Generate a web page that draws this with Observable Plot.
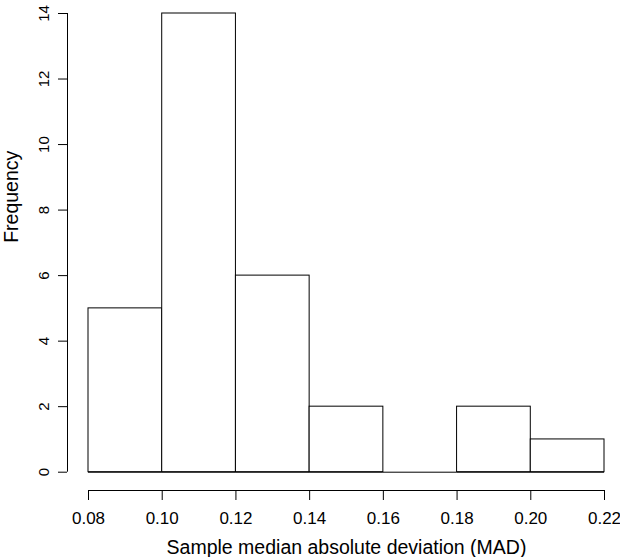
<!DOCTYPE html>
<html><head><meta charset="utf-8">
<script src="https://cdn.jsdelivr.net/npm/d3@7"></script>
<script src="https://cdn.jsdelivr.net/npm/@observablehq/plot@0.6"></script>
<style>body{margin:0;background:#fff;}</style>
</head><body><div id="chart"></div>
<script>
const binStarts = [0.08, 0.10, 0.12, 0.14, 0.16, 0.18, 0.20];
const binEnds   = [0.10, 0.12, 0.14, 0.16, 0.18, 0.20, 0.22];
const counts    = [5, 14, 6, 2, 0, 2, 1];
const xTicks = [0.08, 0.10, 0.12, 0.14, 0.16, 0.18, 0.20, 0.22];
const yTicks = [0, 2, 4, 6, 8, 10, 12, 14];
const xLabel = "Sample median absolute deviation (MAD)";
const yLabel = "Frequency";

const bins = counts.map((c, i) => ({x1: binStarts[i], x2: binEnds[i], count: c}));
const xMin = xTicks[0], xMax = xTicks[xTicks.length - 1];
const yMin = yTicks[0], yMax = yTicks[yTicks.length - 1];

const chart = Plot.plot({
  width: 620,
  height: 557,
  marginLeft: 67,
  insetLeft: 21,
  marginRight: 16,
  insetRight: 0,
  marginTop: 13,
  insetTop: 0,
  marginBottom: 67,
  insetBottom: 18.3,
  style: {fontFamily: "'Liberation Sans', Arial, sans-serif", color: "#000", background: "#fff"},
  x: {domain: [xMin, xMax], axis: null},
  y: {domain: [yMin, yMax], axis: null},
  marks: [
    Plot.rectY(bins, {x1: "x1", x2: "x2", y: "count", fill: "#fff", stroke: "#000", strokeWidth: 1}),
    Plot.ruleY(bins, {x1: "x1", x2: "x2", y: () => 0, stroke: "#000", strokeWidth: 1}),
    // x axis
    Plot.ruleY([yMin], {x1: xMin, x2: xMax, dy: 18.3, stroke: "#000"}),
    Plot.axisX(xTicks, {anchor: "bottom", tickSize: 10, tickPadding: 11, tickFormat: d3.format(".2f"), fontSize: 17, label: null, stroke: "#000"}),
    // y axis
    Plot.ruleX([xMin], {y1: yMin, y2: yMax, dx: -21, stroke: "#000"}),
    Plot.axisY(yTicks, {anchor: "left", tickSize: 9, tickPadding: 10, tickRotate: -90, tickFormat: d3.format("d"), fontSize: 15, label: null, stroke: "#000"}),
    // titles
    Plot.text([xLabel], {x: () => (xMin + xMax) / 2, frameAnchor: "bottom", dy: 63, lineAnchor: "bottom", fontSize: 19.5, fill: "#000"}),
    Plot.text([yLabel], {y: () => (yMin + yMax) / 2, frameAnchor: "left", dx: -50, rotate: -90, lineAnchor: "bottom", fontSize: 19.5, fill: "#000"})
  ]
});
document.getElementById("chart").append(chart);
</script>
</body></html>
